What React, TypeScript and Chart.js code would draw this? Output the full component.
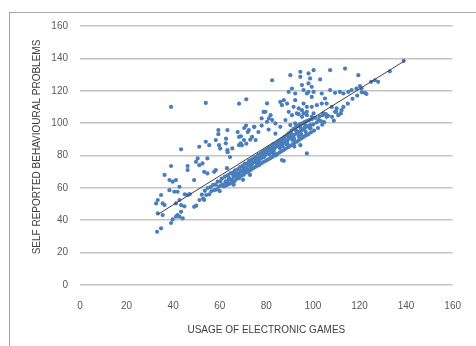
import React, { useEffect, useRef } from "react";
import { Chart, registerables } from "chart.js";

Chart.register(...registerables);

// Axis ticks
const xTickValues = [0, 20, 40, 60, 80, 100, 120, 140, 160];
const yTickValues = [0, 20, 40, 60, 80, 100, 120, 140, 160];

const xTitle = "USAGE OF ELECTRONIC GAMES";
const yTitle = "SELF REPORTED BEHAVIOURAL PROBLEMS";

// [usage of electronic games, self reported behavioural problems]
const mainBand: [number, number][] = [
  [52.3, 55.8], [52.9, 53.4], [53.6, 58.2], [54.2, 55.6], [54.8, 59.9], [55.5, 56.0], [56.1, 60.5], [56.4, 57.9],
  [57.2, 61.9], [57.6, 58.6], [58.3, 62.0], [58.7, 59.0], [59.1, 63.9], [59.6, 60.7], [60.2, 64.1], [60.5, 61.5],
  [60.9, 65.8], [61.3, 62.0], [61.8, 60.9], [62.2, 66.9], [62.6, 63.3], [63.0, 61.6], [63.4, 67.8], [63.8, 64.9],
  [64.1, 62.4], [64.5, 68.9], [64.9, 65.0], [65.2, 63.0], [65.6, 69.4], [65.9, 66.8], [66.3, 64.1], [66.6, 70.9],
  [67.0, 67.0], [67.3, 65.5], [67.7, 71.4], [68.0, 68.8], [68.3, 66.0], [68.7, 72.9], [69.0, 69.8], [69.4, 67.5],
  [69.7, 73.4], [70.0, 70.0], [70.3, 68.1], [70.7, 74.9], [71.0, 72.5], [71.3, 69.4], [71.6, 75.1], [72.0, 71.6],
  [72.3, 70.0], [72.6, 76.7], [72.9, 73.9], [73.2, 71.0], [73.6, 77.5], [73.9, 74.8], [74.2, 71.9], [74.5, 78.3],
  [74.8, 76.0], [75.1, 72.8], [75.5, 79.1], [75.8, 75.2], [76.1, 73.6], [76.4, 80.3], [76.7, 77.9], [77.0, 74.1],
  [77.4, 81.0], [77.7, 78.2], [78.0, 75.3], [78.3, 82.1], [78.6, 79.9], [78.9, 76.1], [79.3, 83.0], [79.6, 80.3],
  [79.9, 76.8], [80.2, 83.8], [80.5, 81.9], [80.8, 77.6], [81.1, 84.9], [81.5, 82.0], [81.8, 78.4], [82.1, 85.7],
  [82.4, 83.6], [82.7, 79.2], [83.0, 86.9], [83.4, 84.1], [83.7, 80.2], [84.0, 87.4], [84.3, 85.5], [84.6, 80.9],
  [85.0, 88.6], [85.3, 85.9], [85.6, 81.8], [85.9, 89.5], [86.2, 87.2], [86.5, 82.6], [86.9, 90.4], [87.2, 87.6],
  [87.5, 83.4], [87.8, 91.5], [88.1, 88.9], [88.4, 84.3], [88.8, 92.6], [89.1, 89.4], [89.4, 85.1], [89.7, 93.8],
  [90.0, 90.9], [90.3, 86.0], [90.7, 95.2], [91.0, 91.6], [91.3, 86.9], [91.6, 96.4], [91.9, 92.8], [92.2, 87.8],
  [92.6, 97.5], [92.9, 93.7], [93.2, 88.6], [93.5, 98.3], [93.8, 94.6], [94.1, 89.7], [94.5, 99.4], [94.8, 95.5],
  [95.1, 90.6], [95.4, 99.9], [95.7, 96.1], [96.0, 91.5], [96.4, 100.7], [96.7, 97.3], [97.0, 92.4], [97.3, 101.2],
  [97.7, 98.0], [98.0, 93.1], [98.4, 101.9], [98.8, 98.8], [99.2, 94.3], [99.6, 102.5], [100.1, 99.2], [100.5, 95.4],
  [101.0, 103.3], [101.6, 100.4], [102.2, 97.0], [102.8, 104.1], [103.4, 101.3], [104.1, 104.9], [104.8, 100.6], [105.6, 105.5],
  [62.5, 64.0], [64.0, 66.0], [66.0, 67.8], [67.5, 68.9], [69.2, 70.6], [70.8, 72.3], [72.4, 73.9], [74.0, 75.6],
  [75.6, 77.3], [77.2, 78.8], [78.8, 80.4], [80.4, 82.0], [82.0, 83.3], [83.6, 84.9], [85.2, 86.4], [86.8, 87.9],
  [88.4, 89.4], [90.0, 91.0], [91.6, 92.1], [93.2, 93.6], [94.8, 95.2], [96.3, 96.7], [76.0, 75.4], [79.0, 79.0],
  [81.2, 80.7], [83.2, 82.2], [87.0, 85.7], [89.0, 87.6], [92.0, 90.2], [95.0, 93.0], [71.5, 70.4], [73.5, 72.6],
  [68.4, 67.7], [65.4, 65.0], [63.3, 63.0], [66.8, 68.6], [70.2, 71.5], [73.1, 75.0], [76.9, 76.2], [79.8, 81.3],
  [82.9, 81.4], [85.8, 84.6], [88.7, 86.9], [91.2, 89.6], [93.9, 92.0], [96.9, 94.6], [99.0, 97.0], [77.9, 80.7],
  [84.8, 86.1], [90.5, 93.3], [92.7, 95.7], [94.2, 97.9], [89.6, 91.2], [86.4, 88.8],
];

const upperScatter: [number, number][] = [
  [39.1, 110], [54, 112.5], [68.3, 112], [71.4, 114.7], [82.5, 126.5], [90.3, 129.6], [94.6, 131.7], [94.6, 128.6],
  [98.1, 130.7], [98.8, 127.6], [100.3, 132.7], [103.1, 127], [107.4, 132.7], [113.8, 133.7], [119.5, 129.6],
  [91, 121.4], [92.4, 118.3], [89.6, 119.3], [95.3, 123.5], [96, 120.4], [98.1, 119.3], [98.1, 124.5], [99.5, 122.4],
  [97.4, 118.3], [100.3, 119.3], [103.8, 118.3], [105.2, 115.2], [107.4, 120.4], [109.5, 118.7], [111.6, 119.3],
  [113.1, 118.3], [115.2, 119.3], [116.6, 120.4], [118.7, 121.4], [120.2, 122.8], [120.9, 121.4], [122.3, 118.7],
  [126.6, 126.5], [128, 125.5], [133, 132], [139, 138.5], [80.3, 112.2], [86, 113.1], [87.5, 114.2], [86.7, 111.1],
  [88.9, 112.1], [92.4, 114.2], [91.7, 110.1], [93.9, 109.1], [96, 112.1], [97.4, 110.1], [99.5, 110.1], [99.5, 116.2],
  [101.7, 111.1], [103.8, 112.1], [105.9, 112.1], [108.1, 110], [110.2, 109.1], [112.3, 108], [109.5, 107], [110.9, 104.9],
  [113.1, 110], [104.5, 106], [105.9, 103.9], [102.4, 101.9], [99.5, 103.9], [93.9, 105.5], [95.3, 108], [96, 106],
  [97.4, 107], [89.6, 107], [91, 104.9], [93.1, 106], [95.3, 103.9], [97.4, 104.9], [100.3, 106], [79.6, 107],
  [81.8, 104.9], [81.1, 102.9], [82.5, 101.9], [78.8, 106.9], [78, 102.9], [78, 98.5], [74.7, 97.7], [72.5, 95.7],
  [73.9, 91.5], [75.4, 89.5], [80.3, 100.8], [83.9, 99.8], [86, 97.7], [88.2, 101.9], [90.3, 98.8], [92.4, 99.8],
  [94.6, 97.7], [96.7, 98.8], [98.8, 96.7], [70.4, 89.5], [69, 87.5], [70.5, 97], [71.3, 98.5], [72, 94.5],
  [74.9, 97.7], [76.6, 94.5], [81, 96], [83.9, 93.5], [67.7, 94.5], [69.1, 91.9], [69.5, 86.3], [71.4, 87.3],
  [73.1, 89.8], [68.3, 86.4], [68.3, 91.5], [65.4, 84.4], [63.3, 83.3], [62.6, 87.5], [59.7, 86.4], [58.3, 89.5],
  [59.4, 95.7], [59.4, 93.2], [63.3, 95.7], [62.7, 90.4], [60.2, 84.3], [64.4, 79], [63.4, 82], [54, 88.5],
  [51.2, 85.4], [55.5, 86.4], [43.4, 83.8], [50.5, 78.2], [54.7, 78.2], [52.6, 75.1], [51.2, 74], [49.8, 76.1],
  [104, 99], [106.5, 104.5], [108.2, 103.9], [110, 107], [112, 106], [115, 112], [117, 115], [119, 117],
  [121, 119], [123, 118], [125, 125.5], [109, 101.5],
];

const lowerScatter: [number, number][] = [
  [39.1, 73.5], [46.2, 73.5], [46.2, 71], [36.3, 68], [38.4, 64.8], [53.3, 69.9], [54.7, 68.9], [57.6, 69.9],
  [58.3, 71], [63.1, 72.2], [49, 64.8], [41.2, 64.8], [39.8, 63.8], [42.7, 60.7], [41.9, 57.6], [40.5, 57.6],
  [38.4, 58.6], [34.8, 55.6], [33.4, 52.5], [32.7, 50.4], [35.5, 50.4], [36.3, 49.4], [46.2, 55.6], [47.1, 56.1],
  [45, 56], [53.3, 52.5], [42.7, 52.5], [43.4, 49.4], [41.2, 50.4], [49.9, 49], [49, 48.3], [44.8, 48.6],
  [33.4, 44.2], [35.5, 43.2], [43.4, 45.2], [42.7, 42.2], [41.9, 43.2], [44.1, 41.2], [41.2, 42.2], [39.8, 40.5],
  [39.1, 38.3], [34.8, 35], [33.1, 32.9], [51.3, 52.5], [87.5, 76.7], [86.7, 77.2], [94.6, 86.4], [97.4, 81.3],
  [92, 85.5], [84, 80], [70, 65], [73, 68], [66, 62], [60, 58],
];

// Linear trend line end points
const trendX = [33.4, 139.4];
const trendY = [43.6, 138.5];

const FONT = "'Liberation Sans', Arial, sans-serif";

export default function App() {
  const ref = useRef<HTMLCanvasElement>(null);

  useEffect(() => {
    const points = [...mainBand, ...upperScatter, ...lowerScatter].map(([x, y]) => ({ x, y }));
    const trend = trendX.map((x, i) => ({ x, y: trendY[i] }));

    const yTitlePlugin = {
      id: "yTitle",
      afterDraw(chart: any) {
        const ctx = chart.ctx;
        ctx.save();
        ctx.translate(37, 147);
        ctx.rotate(-Math.PI / 2);
        ctx.font = `10px ${FONT}`;
        ctx.fillStyle = "#404040";
        ctx.textAlign = "center";
        ctx.textBaseline = "middle";
        ctx.fillText(yTitle, 0, 0);
        ctx.restore();
      },
    };

    const chart = new Chart(ref.current!, {
      type: "scatter",
      data: {
        datasets: [
          {
            type: "line",
            data: trend,
            borderColor: "#404040",
            borderWidth: 1,
            pointRadius: 0,
            fill: false,
            order: 0,
          } as any,
          {
            data: points,
            backgroundColor: "#4a7ebb",
            borderWidth: 0,
            pointRadius: 2.1,
            pointStyle: "circle",
            order: 1,
          },
        ],
      },
      plugins: [yTitlePlugin],
      options: {
        responsive: false,
        animation: false,
        devicePixelRatio: 1,
        layout: { padding: { top: 26, right: 21, bottom: 0, left: 0 } },
        plugins: { legend: { display: false }, tooltip: { enabled: false } },
        scales: {
          x: {
            type: "linear",
            min: 0,
            max: 160,
            afterBuildTicks: (s: any) => {
              s.ticks = xTickValues.map((v) => ({ value: v }));
            },
            ticks: { padding: 15, color: "#595959", font: { family: FONT, size: 10 } },
            grid: { display: false, drawTicks: false },
            border: { display: false },
            title: {
              display: true,
              text: xTitle,
              color: "#404040",
              font: { family: FONT, size: 10 },
              padding: { top: 0, bottom: 10 },
            },
            afterFit: (s: any) => {
              s.height = 61;
            },
          },
          y: {
            type: "linear",
            min: 0,
            max: 160,
            afterBuildTicks: (s: any) => {
              s.ticks = yTickValues.map((v) => ({ value: v }));
            },
            ticks: { padding: 12, color: "#595959", font: { family: FONT, size: 10 } },
            grid: { color: "#c4c4c4", lineWidth: 1.6, drawTicks: false },
            border: { display: false },
            afterFit: (s: any) => {
              s.width = 80;
            },
          },
        },
      },
    });
    return () => chart.destroy();
  }, []);

  return (
    <div style={{ position: "fixed", left: 0, top: 0, width: 476, height: 346, background: "#fff" }}>
      <div
        style={{
          position: "absolute",
          left: 9,
          top: 12,
          width: 467,
          height: 334,
          boxSizing: "border-box",
          borderLeft: "1px solid #a6a6a6",
          borderTop: "1px solid #a6a6a6",
        }}
      />
      <canvas
        ref={ref}
        width={476}
        height={346}
        style={{ position: "absolute", left: 0, top: 0, width: 476, height: 346 }}
      />
    </div>
  );
}
